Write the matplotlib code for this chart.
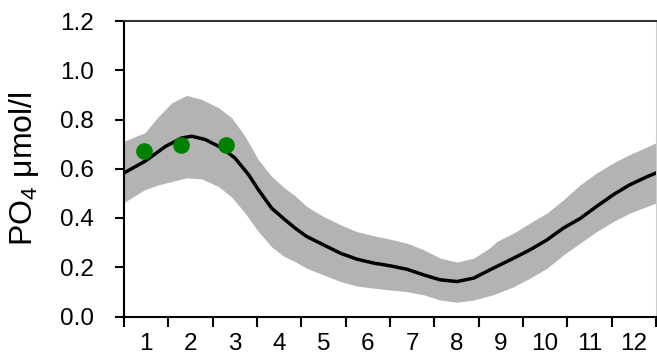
import matplotlib
matplotlib.use('agg')
import matplotlib.pyplot as plt

# month axis runs 0..12, labels sit in the middle of each month
month_labels = ['1', '2', '3', '4', '5', '6', '7', '8', '9', '10', '11', '12']

# climatology mean (black line)
mean_x = [0, 0.47, 0.93, 1.30, 1.53, 1.83, 2.2, 2.5, 2.81, 3.03, 3.33, 3.63, 3.86,
          4.12, 4.5, 4.88, 5.25, 5.63, 6.0, 6.38, 6.76, 7.13, 7.51, 7.89, 8.26,
          8.79, 9.16, 9.54, 9.91, 10.29, 10.66, 11.04, 11.41, 11.79, 12.0]
mean_po4 = [0.583, 0.63, 0.69, 0.725, 0.732, 0.719, 0.685, 0.644, 0.576, 0.515, 0.44,
            0.393, 0.359, 0.325, 0.291, 0.257, 0.233, 0.217, 0.206, 0.192, 0.169,
            0.149, 0.142, 0.156, 0.19, 0.237, 0.271, 0.311, 0.359, 0.398, 0.447,
            0.495, 0.535, 0.567, 0.583]

# spread (grey band)
band_x = [0, 0.47, 0.78, 1.08, 1.41, 1.75, 2.13, 2.43, 2.73, 3.03, 3.33, 3.6, 3.86, 4.12,
          4.5, 4.88, 5.25, 5.63, 6.0, 6.38, 6.76, 7.13, 7.51, 7.89, 8.26, 8.41, 8.79,
          9.16, 9.54, 9.91, 10.29, 10.66, 11.04, 11.41, 12.0]
band_upper = [0.712, 0.746, 0.813, 0.868, 0.898, 0.882, 0.848, 0.807, 0.732, 0.637,
              0.569, 0.525, 0.49, 0.447, 0.406, 0.373, 0.345, 0.328, 0.314, 0.298, 0.271,
              0.237, 0.221, 0.237, 0.28, 0.305, 0.339, 0.38, 0.42, 0.474, 0.535,
              0.583, 0.624, 0.658, 0.705]
band_lower = [0.463, 0.515, 0.535, 0.548, 0.563, 0.559, 0.528, 0.485, 0.42, 0.345,
              0.283, 0.245, 0.223, 0.196, 0.169, 0.142, 0.124, 0.115, 0.108, 0.101, 0.088,
              0.067, 0.058, 0.067, 0.085, 0.094, 0.121, 0.156, 0.196, 0.25, 0.298,
              0.345, 0.386, 0.42, 0.461]

# observations (green dots)
obs_x = [0.45, 1.28, 2.30]
obs_po4 = [0.674, 0.698, 0.696]

plt.rcParams['font.family'] = ['Liberation Sans', 'DejaVu Sans']

fig = plt.figure(figsize=(6.57, 3.54), dpi=100)
ax = fig.add_axes([124 / 657, 37.5 / 354, 532 / 657, 295.5 / 354])

ax.fill_between(band_x, band_lower, band_upper, color='#b3b3b3', linewidth=0, zorder=1)
ax.plot(mean_x, mean_po4, color='black', linewidth=2.5, zorder=2)
ax.plot(obs_x, obs_po4, 'o', color='#008000', markersize=12, markeredgewidth=0, zorder=3)

ax.set_xlim(0, 12)
ax.set_ylim(0, 1.2)

# integer ticks are the month boundaries, labels in between
ax.set_xticks(range(13))
ax.set_xticklabels([])
ax.set_xticks([i + 0.5 for i in range(12)], minor=True)
ax.set_xticklabels(month_labels, minor=True)
ax.tick_params(axis='x', which='major', direction='out', length=7, width=1.5, color='black')
ax.tick_params(axis='x', which='minor', length=0, pad=12, labelsize=17.5)

ax.set_yticks([0, 0.2, 0.4, 0.6, 0.8, 1.0, 1.2])
ax.set_yticklabels(['0.0', '0.2', '0.4', '0.6', '0.8', '1.0', '1.2'])
ax.tick_params(axis='y', direction='out', length=6.5, width=1.5, pad=15, labelsize=17.5)

ax.set_ylabel('PO$_\\mathregular{4}$ μmol/l', fontsize=23)
ax.yaxis.set_label_coords(-0.156, 0.5)

ax.spines['left'].set_linewidth(1.5)
ax.spines['bottom'].set_linewidth(1.5)
ax.spines['top'].set_linewidth(1.5)
ax.spines['top'].set_color('#333333')
ax.spines['right'].set_linewidth(0.8)
ax.spines['right'].set_color('#cccccc')

fig.savefig('out.png', dpi=100)
